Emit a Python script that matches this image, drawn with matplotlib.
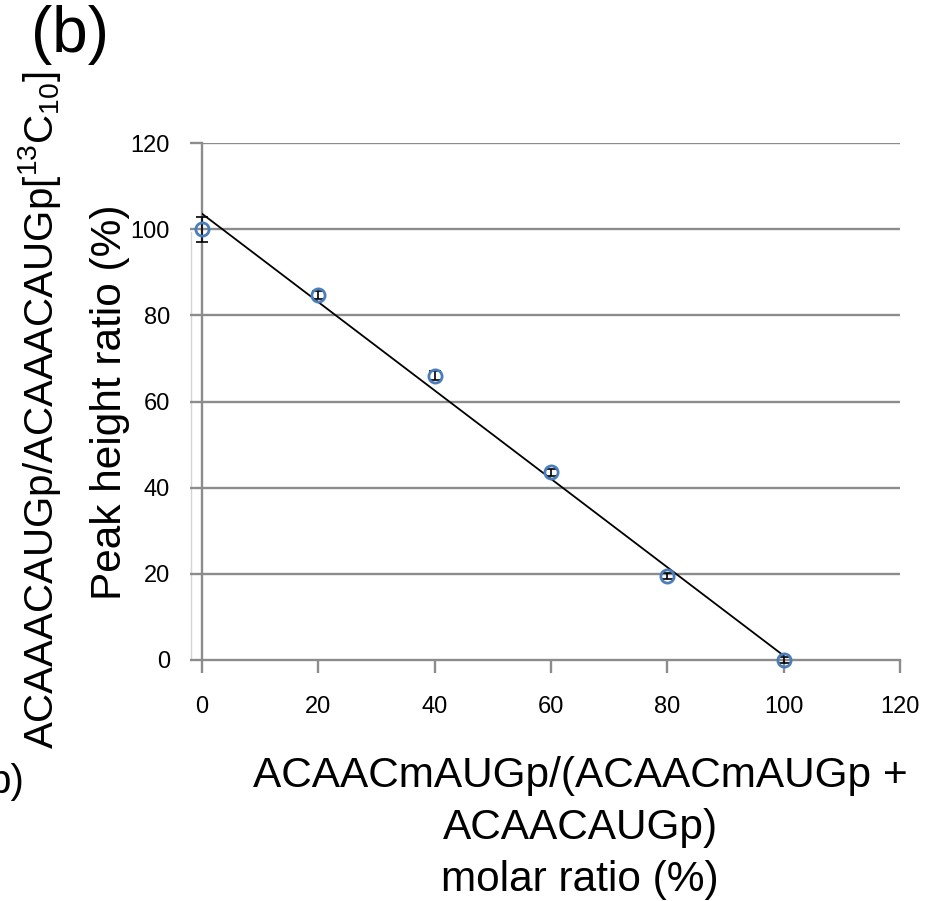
import numpy as np
import matplotlib
matplotlib.use("Agg")
import matplotlib.pyplot as plt

plt.rcParams['font.family'] = ['Liberation Sans', 'DejaVu Sans']

x_vals = [0, 20, 40, 60, 80, 100]
y_vals = [100.0, 84.7, 66.0, 43.6, 19.5, 0.0]
y_err = [2.9, 1.0, 1.0, 0.8, 0.8, 0.6]
x_ticks = [0, 20, 40, 60, 80, 100, 120]
y_ticks = [0, 20, 40, 60, 80, 100, 120]

fig = plt.figure(figsize=(9.35, 9.01), dpi=100)
ax = fig.add_axes([202/935, 1-660/901, (900-202)/935, (660-143)/901])

grid_c = '#8c8c8c'
for yt in y_ticks[1:]:
    ax.axhline(yt, color=grid_c, lw=1.7, zorder=1)

# faint plot-area border line left of the axis
ax.plot([-1.9, -1.9], [0, 99.3], color='#d4d4d4', lw=1.0, clip_on=False, zorder=0)

# trendline (linear fit)
m, b = np.polyfit(x_vals, y_vals, 1)
xt = np.array([min(x_vals), max(x_vals)])
ax.plot(xt, m*xt + b, color='black', lw=1.3, zorder=3)

eb = ax.errorbar(x_vals, y_vals, yerr=y_err, fmt='none', ecolor='black',
                 elinewidth=1.2, capsize=4, capthick=1.2, zorder=4)
for art in eb.lines[1]:
    art.set_clip_on(False)
for art in eb.lines[2]:
    art.set_clip_on(False)
ax.plot(x_vals, y_vals, 'o', mfc='none', mec='#4a7ebb', mew=2.0,
        ms=9.5, zorder=5, clip_on=False)

ax.set_xlim(0, 120)
ax.set_ylim(0, 120)
ax.set_xticks(x_ticks)
ax.set_yticks(y_ticks)
ax.set_xticklabels([str(t) for t in x_ticks], fontsize=17)
ax.set_yticklabels([str(t) for t in y_ticks], fontsize=17)
for s in ['top', 'right']:
    ax.spines[s].set_visible(False)
for s in ['left', 'bottom']:
    ax.spines[s].set_color(grid_c)
    ax.spines[s].set_linewidth(1.7)
ax.tick_params(axis='both', colors=grid_c, length=9, width=1.7, labelcolor='black')
ax.tick_params(axis='x', pad=17)
ax.tick_params(axis='y', pad=14)

fig.text(40/935, 1-410/901, 'ACAAACAUGp/ACAAACAUGp[$\\mathregular{^{13}}$C$\\mathregular{_{10}}$]',
         rotation=90, ha='center', va='center', fontsize=29)
fig.text(110/935, 1-402/901, 'Peak height ratio (%)',
         rotation=90, ha='center', va='center', fontsize=30.5)

fig.text(580/935, 1-828/901, 'ACAACmAUGp/(ACAACmAUGp +\nACAACAUGp)\nmolar ratio (%)',
         ha='center', va='center', fontsize=30.5, linespacing=1.4)

fig.text(31/935, 1-35/901, '(b)', ha='left', va='center', fontsize=46)
fig.text(-12/935, 1-782/901, 'p)', ha='left', va='center', fontsize=29)

fig.savefig('out.png', dpi=100)
